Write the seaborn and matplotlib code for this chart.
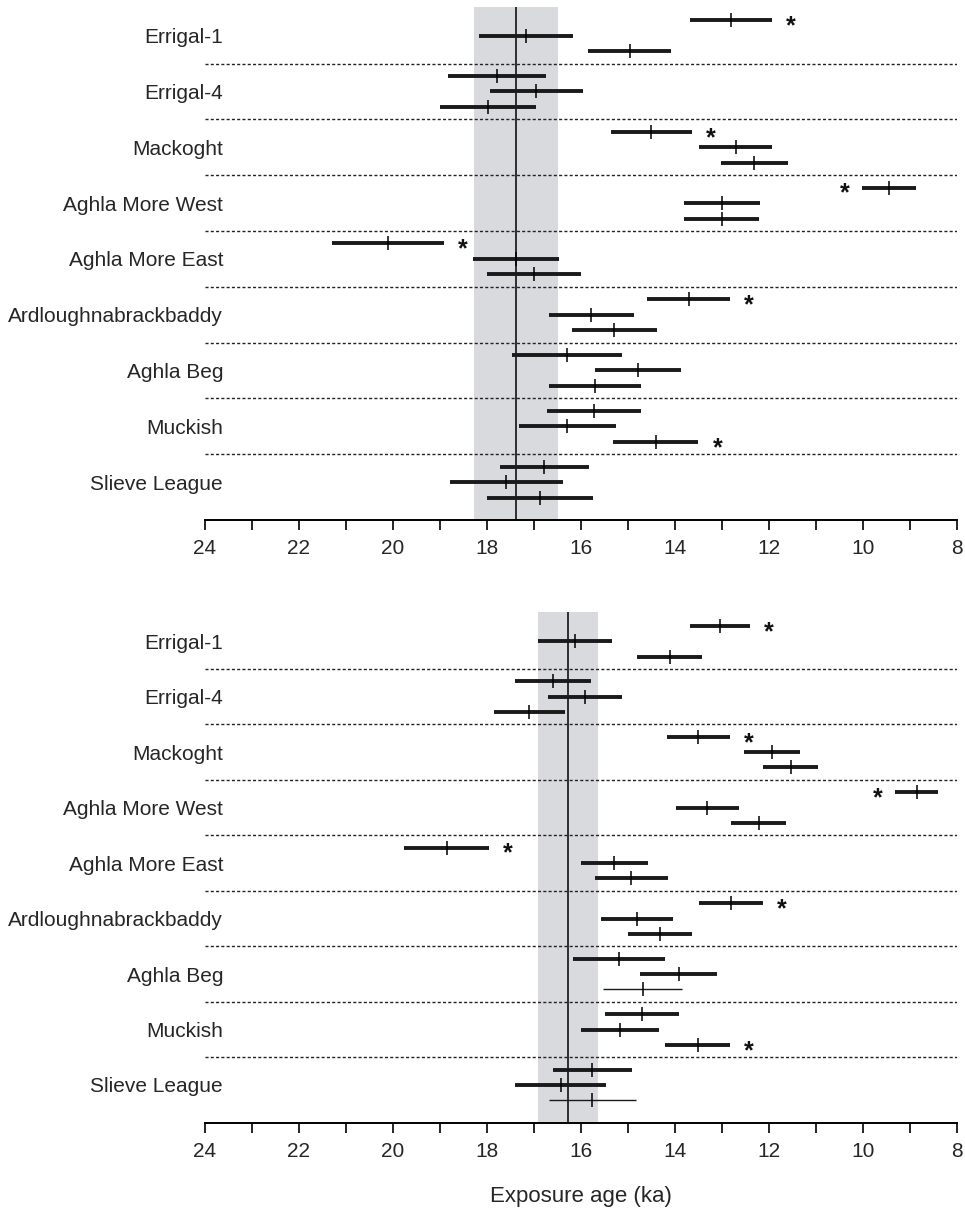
import numpy as np
import pandas as pd
import matplotlib
matplotlib.use('Agg')
import matplotlib.pyplot as plt
import seaborn as sns

# site names, top to bottom
sites = ['Errigal-1', 'Errigal-4', 'Mackoght', 'Aghla More West', 'Aghla More East',
         'Ardloughnabrackbaddy', 'Aghla Beg', 'Muckish', 'Slieve League']

# upper panel: exposure ages (ka) and 1 sigma, three samples per site
top_age = [[12.80, 17.17, 14.96], [17.78, 16.95, 17.98], [14.50, 12.71, 12.31],
           [9.45, 13.00, 13.01], [20.10, 17.38, 17.01], [13.71, 15.78, 15.29],
           [16.29, 14.79, 15.70], [15.72, 16.29, 14.41], [16.78, 17.59, 16.88]]
top_err = [[0.87, 1.00, 0.88], [1.04, 0.99, 1.03], [0.86, 0.77, 0.71],
           [0.58, 0.81, 0.80], [1.19, 0.92, 1.00], [0.88, 0.90, 0.91],
           [1.17, 0.92, 0.98], [1.00, 1.03, 0.91], [0.95, 1.20, 1.13]]
top_mean, top_sd = 17.38, 0.89

# lower panel
bot_age = [[13.05, 16.12, 14.11], [16.60, 15.92, 17.10], [13.50, 11.94, 11.54],
           [8.86, 13.31, 12.22], [18.86, 15.29, 14.93], [12.81, 14.81, 14.32],
           [15.20, 13.92, 14.69], [14.70, 15.17, 13.52], [15.76, 16.43, 15.76]]
bot_err = [[0.64, 0.79, 0.69], [0.81, 0.79, 0.76], [0.68, 0.60, 0.58],
           [0.46, 0.67, 0.59], [0.90, 0.72, 0.78], [0.68, 0.76, 0.68],
           [0.98, 0.82, 0.84], [0.78, 0.83, 0.69], [0.84, 0.97, 0.93]]
bot_mean, bot_sd = 16.27, 0.64

# outliers marked with * as (site, sample); same ones in both panels
outliers = [(0, 0), (2, 0), (3, 0), (4, 0), (5, 0), (7, 2)]
# samples drawn with a thin bar in the lower panel
bot_thin = [(6, 2), (8, 2)]

xticks = list(range(8, 25, 2))

sns.set_theme(style='white')
plt.rcParams['font.family'] = ['Liberation Sans', 'DejaVu Sans']


def make_df(age, err, thin):
    rows = []
    for i, site in enumerate(sites):
        for j in range(len(age[i])):
            rows.append({'site': site, 'age': age[i][j], 'err': err[i][j],
                         'y': i + (j - 1) * 0.277,
                         'star': (i, j) in outliers,
                         'thin': (i, j) in thin})
    return pd.DataFrame(rows)


def panel(ax, age, err, mean, sd, thin=()):
    df = make_df(age, err, thin)
    ax.axvspan(mean - sd, mean + sd, color='#d9dadd', lw=0, zorder=0)
    ax.axvline(mean, color='black', lw=1.1, zorder=1)
    for k in range(len(sites) - 1):
        ax.axhline(k + 0.5, color='#222222', lw=1.0, ls=(0, (2.2, 1.6)), zorder=1)
    for _, r in df.iterrows():
        ax.hlines(r.y, r.age - r.err, r.age + r.err, color='#1a1a1a',
                  lw=1.0 if r.thin else 2.8, zorder=3)
        if r.star:
            # star goes on the younger side unless the bar is at the edge
            if r.age - r.err > 9.5:
                sx = r.age - r.err - 0.4
            else:
                sx = r.age + r.err + 0.36
            ax.text(sx, r.y + 0.11, '*', ha='center', va='center',
                    fontsize=18, fontweight='bold', color='#111111')
    sns.scatterplot(data=df, x='age', y='y', marker='|', s=95, color='black',
                    linewidth=1.1, ax=ax, zorder=4, legend=False)

    ax.set_xlim(24, 8)
    ax.set_ylim(8.68, -0.52)
    ax.set_xticks(xticks)
    ax.set_xticks(range(9, 24, 2), minor=True)
    ax.set_xticklabels([str(t) for t in xticks], fontsize=15)
    ax.set_yticks(range(len(sites)))
    ax.set_yticklabels(sites, fontsize=15)
    ax.tick_params(axis='y', length=0, pad=-13)
    ax.tick_params(axis='x', which='both', direction='out', length=7, width=1.2,
                   color='black', bottom=True, pad=7)
    for s in ['top', 'left', 'right']:
        ax.spines[s].set_visible(False)
    ax.spines['bottom'].set_linewidth(1.4)
    ax.spines['bottom'].set_color('black')
    ax.set_xlabel('')
    ax.set_ylabel('')


fig = plt.figure(figsize=(9.65, 12.11), dpi=100)
ax1 = fig.add_axes([0.2124, 0.5706, 0.7793, 0.4239])
ax2 = fig.add_axes([0.2124, 0.0729, 0.7793, 0.4215])

panel(ax1, top_age, top_err, top_mean, top_sd)
panel(ax2, bot_age, bot_err, bot_mean, bot_sd, bot_thin)
ax2.set_xlabel('Exposure age (ka)', fontsize=16, labelpad=18)

fig.savefig('out.png', dpi=100, facecolor='white')
